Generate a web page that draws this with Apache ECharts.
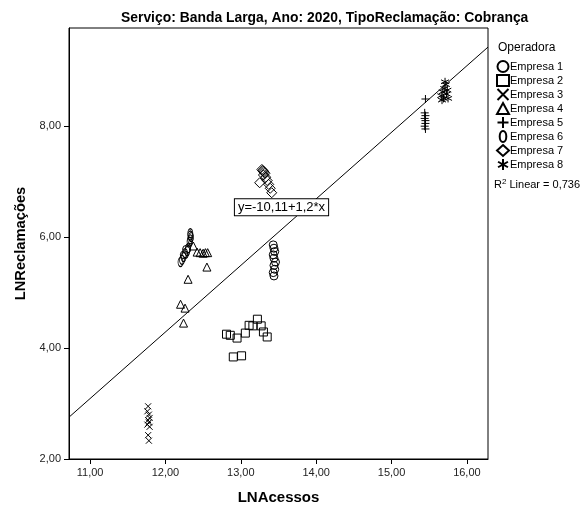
<!DOCTYPE html>
<html>
<head>
<meta charset="utf-8">
<script src="https://cdn.jsdelivr.net/npm/echarts@6/dist/echarts.min.js"></script>
<style>
  html, body { margin: 0; padding: 0; background: #fff; }
  #chart { width: 581px; height: 508px; }
</style>
</head>
<body>
<div id="chart"></div>
<script>
// LNAcessos (x) vs LNReclamações (y), one list of [x, y] pairs per operator
const empresa1 = [[13.43,5.86],[13.44,5.80],[13.45,5.74],[13.43,5.68],[13.44,5.62],[13.46,5.55],[13.44,5.49],[13.45,5.42],[13.43,5.36],[13.44,5.30],[12.28,5.78],[12.25,5.68]];
const empresa2 = [[12.81,4.25],[12.86,4.23],[12.95,4.18],[13.06,4.27],[13.11,4.41],[13.16,4.40],[13.22,4.52],[13.27,4.40],[13.30,4.29],[13.35,4.20],[12.90,3.84],[13.01,3.86]];
const empresa3 = [[11.77,2.95],[11.76,2.86],[11.78,2.80],[11.79,2.74],[11.77,2.70],[11.78,2.66],[11.76,2.62],[11.79,2.58],[11.77,2.43],[11.78,2.33]];
const empresa4 = [[12.20,4.79],[12.26,4.72],[12.24,4.45],[12.30,5.24],[12.55,5.46],[12.37,5.84],[12.42,5.73],[12.46,5.72],[12.50,5.71],[12.53,5.72],[12.56,5.72]];
const empresa5 = [[15.45,8.49],[15.44,8.24],[15.45,8.19],[15.44,8.14],[15.45,8.10],[15.45,8.05],[15.44,8.00],[15.45,7.95]];
const empresa6 = [[12.33,6.07],[12.33,6.03],[12.34,6.00],[12.33,5.96],[12.32,5.92],[12.30,5.80],[12.29,5.75],[12.26,5.71],[12.24,5.64],[12.22,5.59],[12.20,5.55]];
const empresa7 = [[13.28,7.22],[13.29,7.20],[13.30,7.19],[13.31,7.17],[13.32,7.15],[13.30,7.12],[13.25,6.98],[13.33,7.08],[13.35,7.02],[13.37,6.95],[13.39,6.88],[13.41,6.80]];
const empresa8 = [[15.66,8.55],[15.68,8.62],[15.70,8.68],[15.72,8.75],[15.71,8.80],[15.69,8.50],[15.73,8.58],[15.75,8.50],[15.67,8.47],[15.74,8.65]];

const seriesNames = ['Empresa 1','Empresa 2','Empresa 3','Empresa 4','Empresa 5','Empresa 6','Empresa 7','Empresa 8'];
const seriesData = [empresa1, empresa2, empresa3, empresa4, empresa5, empresa6, empresa7, empresa8];

// fitted linear model
const intercept = -10.11;
const slope = 1.2;
const rSquared = '0,736';

const xRange = [10.72, 16.28];
const yRange = [2, 9.77];
const xTicks = [11, 12, 13, 14, 15, 16];
const yTicks = [2, 4, 6, 8];

const ovalPath = 'path://M3,0C4.7,0 6,2.2 6,5C6,7.8 4.7,10 3,10C1.3,10 0,7.8 0,5C0,2.2 1.3,0 3,0Z';

const symbols = [
  { symbol: 'circle', size: 8, icon: 'circle' },
  { symbol: 'rect', size: 8, icon: 'rect' },
  { symbol: 'path://M0,0L10,10M10,0L0,10', size: 6, icon: 'path://M0,0L10,10M10,0L0,10' },
  { symbol: 'triangle', size: 8, icon: 'triangle' },
  { symbol: 'path://M5,0L5,10M0,5L10,5', size: 8, icon: 'path://M5,0L5,10M0,5L10,5' },
  { symbol: ovalPath, size: [5, 9], icon: ovalPath },
  { symbol: 'diamond', size: 10, icon: 'diamond' },
  { symbol: 'path://M5,0L5,10M0.5,2.5L9.5,7.5M0.5,7.5L9.5,2.5', size: 8, icon: 'path://M5,0L5,10M0.5,2.5L9.5,7.5M0.5,7.5L9.5,2.5' }
];

const fmt = v => v.toFixed(2).replace('.', ',');
const font = 'Liberation Sans, Arial, sans-serif';

const chart = echarts.init(document.getElementById('chart'), null, { renderer: 'canvas' });

const scatterSeries = seriesNames.map((name, i) => ({
  name: name,
  type: 'scatter',
  data: seriesData[i],
  symbol: symbols[i].symbol,
  symbolSize: symbols[i].size,
  symbolKeepAspect: false,
  itemStyle: { color: 'rgba(255,255,255,0)', borderColor: '#000', borderWidth: 1, opacity: 1 },
  emphasis: { disabled: true },
  z: 3
}));

const fitLine = {
  name: 'fit',
  type: 'line',
  data: xRange.map(x => [x, intercept + slope * x]),
  symbol: 'none',
  lineStyle: { color: '#000', width: 1 },
  silent: true,
  z: 2,
  markPoint: {
    symbol: 'rect',
    symbolSize: 1,
    itemStyle: { color: 'rgba(0,0,0,0)' },
    data: [{ coord: [13.54, 6.54] }],
    label: {
      show: true,
      position: 'inside',
      formatter: 'y=' + fmt(intercept).replace(/0$/, '') + '+' + String(slope).replace('.', ',') + '*x',
      fontFamily: font,
      fontSize: 13,
      color: '#000',
      backgroundColor: '#fff',
      borderColor: '#000',
      borderWidth: 1,
      padding: [2, 3, 1, 3]
    }
  }
};

chart.setOption({
  animation: false,
  backgroundColor: '#fff',
  title: [
    {
      text: 'Serviço: Banda Larga, Ano: 2020, TipoReclamação: Cobrança',
      left: 116, top: 6,
      textStyle: { fontFamily: font, fontSize: 13.9, fontWeight: 'bold', color: '#000' }
    },
    {
      text: 'Operadora',
      left: 493, top: 37,
      textStyle: { fontFamily: font, fontSize: 12, fontWeight: 'normal', color: '#000' }
    },
    {
      text: 'R{sup|2} Linear = ' + rSquared,
      left: 489, top: 173,
      textStyle: {
        fontFamily: font, fontSize: 11, fontWeight: 'normal', color: '#000',
        rich: { sup: { fontFamily: font, fontSize: 8, verticalAlign: 'top', padding: [0, 0, 6, 0], color: '#000' } }
      }
    }
  ],
  legend: {
    data: seriesNames.map((name, i) => ({ name: name, icon: symbols[i].icon })),
    orient: 'vertical',
    left: 491, top: 55,
    itemWidth: 12, itemHeight: 11,
    itemGap: 1,
    symbolKeepAspect: true,
    selectedMode: false,
    textStyle: { fontFamily: font, fontSize: 11, color: '#000', padding: [0, 0, 0, -4], lineHeight: 13 }
  },
  grid: {
    left: 69, top: 28, width: 419, height: 431,
    outerBoundsMode: 'none',
    containLabel: false,
    show: true, borderColor: '#000', borderWidth: 1, backgroundColor: '#fff'
  },
  xAxis: {
    type: 'value',
    min: xRange[0], max: xRange[1],
    name: 'LNAcessos',
    nameLocation: 'middle',
    nameGap: 31,
    nameTextStyle: { fontFamily: font, fontSize: 15, fontWeight: 'bold', color: '#000' },
    axisLine: { show: true, lineStyle: { color: '#000' } },
    axisTick: { show: true, customValues: xTicks, length: 5, lineStyle: { color: '#000' } },
    axisLabel: { customValues: xTicks, formatter: fmt, fontFamily: font, fontSize: 11, color: '#222', margin: 8 },
    splitLine: { show: false }
  },
  yAxis: {
    type: 'value',
    min: yRange[0], max: yRange[1],
    name: 'LNReclamações',
    nameLocation: 'middle',
    nameGap: 40,
    nameTextStyle: { fontFamily: font, fontSize: 14.7, fontWeight: 'bold', color: '#000' },
    axisLine: { show: true, lineStyle: { color: '#000' } },
    axisTick: { show: true, customValues: yTicks, length: 5, lineStyle: { color: '#000' } },
    axisLabel: { customValues: yTicks, formatter: fmt, fontFamily: font, fontSize: 11, color: '#222', margin: 8 },
    splitLine: { show: false }
  },
  series: [fitLine].concat(scatterSeries)
});
</script>
</body>
</html>
